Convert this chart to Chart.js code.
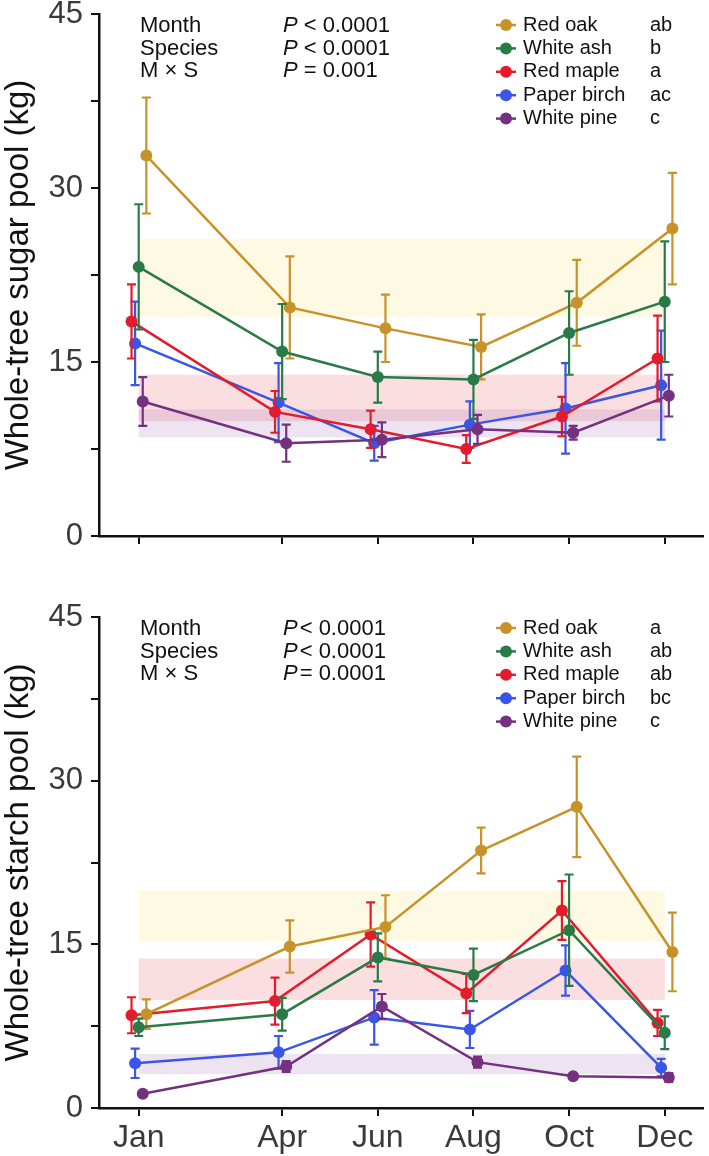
<!DOCTYPE html>
<html>
<head>
<meta charset="utf-8">
<script src="https://cdn.jsdelivr.net/npm/chart.js@4.4.1/dist/chart.umd.min.js"></script>
<style>
  body { margin: 0; background: #fff; }
  canvas { position: absolute; left: 0; }
</style>
</head>
<body>
<canvas id="sugarChart" width="709" height="570" style="top:0"></canvas>
<canvas id="starchChart" width="709" height="586" style="top:570px"></canvas>
<script>
// data (kg, mean and SE)
const months = [1, 4, 6, 8, 10, 12];
const monthNames = ["Jan", "Apr", "Jun", "Aug", "Oct", "Dec"];
const species = ["Red oak", "White ash", "Red maple", "Paper birch", "White pine"];
const yTicks = [0, 7.5, 15, 22.5, 30, 37.5, 45];

const sugarOak = [32.8, 19.7, 17.9, 16.3, 20.1, 26.5];
const sugarOakSE = [5.0, 4.4, 2.9, 2.8, 3.7, 4.8];
const sugarAsh = [23.2, 15.9, 13.7, 13.5, 17.5, 20.2];
const sugarAshSE = [5.4, 4.1, 2.2, 3.4, 3.6, 5.2];
const sugarMaple = [18.5, 10.7, 9.2, 7.5, 10.3, 15.3];
const sugarMapleSE = [3.2, 1.8, 1.6, 1.2, 1.7, 3.7];
const sugarBirch = [16.6, 11.5, 8.0, 9.6, 11.0, 13.0];
const sugarBirchSE = [3.6, 3.4, 1.5, 2.0, 3.9, 4.7];
const sugarPine = [11.6, 8.0, 8.3, 9.2, 8.9, 12.1];
const sugarPineSE = [2.1, 1.6, 1.5, 1.25, 0.6, 1.8];

const starchOak = [8.6, 14.8, 16.6, 23.6, 27.6, 14.3];
const starchOakSE = [1.35, 2.4, 2.9, 2.1, 4.6, 3.6];
const starchAsh = [7.4, 8.6, 13.8, 12.2, 16.3, 6.9];
const starchAshSE = [0.8, 1.5, 2.2, 2.4, 5.1, 1.5];
const starchMaple = [8.5, 9.8, 15.9, 10.5, 18.1, 7.8];
const starchMapleSE = [1.65, 2.15, 2.95, 1.8, 2.7, 1.2];
const starchBirch = [4.1, 5.1, 8.3, 7.2, 12.6, 3.7];
const starchBirchSE = [1.35, 1.5, 2.5, 1.7, 2.3, 0.8];
const starchPine = [1.3, 3.8, 9.3, 4.2, 2.9, 2.8];
const starchPineSE = [0.2, 0.5, 1.15, 0.5, 0.2, 0.4];

// shaded ranges [low, high] for red oak, red maple, white pine
const sugarBands = [[18.9, 25.6], [9.9, 13.9], [8.5, 10.9]];
const starchBands = [[15.3, 19.9], [9.9, 13.7], [3.1, 4.95]];

const effects = ["Month", "Species", "M \u00d7 S"];
const sugarP = ["< 0.0001", "< 0.0001", "= 0.001"];
const starchP = ["< 0.0001", "< 0.0001", "= 0.0001"];
const sugarLetters = ["ab", "b", "a", "ac", "c"];
const starchLetters = ["a", "ab", "ab", "bc", "c"];

// styling
const FONT = "'Liberation Sans', Arial, sans-serif";
const colors = ["#c8922a", "#2a7a48", "#e31b2c", "#3a56e6", "#74317f"];
const dodge = [0.16, 0, -0.15, -0.075, 0.085];
const drawOrder = [2, 1, 3, 4, 0];
const bandColors = ["rgba(246,224,110,0.2)", "rgba(232,90,100,0.2)", "rgba(140,80,170,0.16)"];

const bandsPlugin = {
  id: "bands",
  beforeDatasetsDraw(chart, args, opts) {
    const { ctx, scales: { x, y } } = chart;
    ctx.save();
    opts.bands.forEach((b, i) => {
      const x0 = x.getPixelForValue(months[0]);
      const x1 = x.getPixelForValue(months[months.length - 1]);
      const y0 = y.getPixelForValue(b[1]);
      const y1 = y.getPixelForValue(b[0]);
      ctx.fillStyle = bandColors[i];
      ctx.fillRect(x0, y0, x1 - x0, y1 - y0);
    });
    ctx.restore();
  }
};

const errorBarPlugin = {
  id: "errbars",
  beforeDatasetDraw(chart, args) {
    const ds = chart.data.datasets[args.index];
    const { ctx, scales: { x, y } } = chart;
    ctx.save();
    ctx.strokeStyle = ds.borderColor;
    ctx.lineWidth = 2.2;
    ds.data.forEach((p, i) => {
      const px = x.getPixelForValue(p.x);
      const top = y.getPixelForValue(p.y + ds.se[i]);
      const bot = y.getPixelForValue(p.y - ds.se[i]);
      ctx.beginPath();
      ctx.moveTo(px, top); ctx.lineTo(px, bot);
      ctx.moveTo(px - 4.5, top); ctx.lineTo(px + 4.5, top);
      ctx.moveTo(px - 4.5, bot); ctx.lineTo(px + 4.5, bot);
      ctx.stroke();
    });
    ctx.restore();
  }
};

const textPlugin = {
  id: "statsLegend",
  afterDraw(chart, args, opts) {
    const { ctx, chartArea } = chart;
    const top = chartArea.top;
    ctx.save();
    ctx.textBaseline = "middle";
    ctx.fillStyle = "#111";
    // statistics block
    effects.forEach((e, i) => {
      const yy = top + 12 + i * 22.5;
      ctx.font = "22px " + FONT;
      ctx.fillText(e, 140, yy);
      ctx.font = "italic 22px " + FONT;
      ctx.fillText("P", 283, yy);
      const w = ctx.measureText("P").width;
      ctx.font = "22px " + FONT;
      ctx.fillText(opts.pvals[i], 283 + w + opts.gap, yy);
    });
    // legend
    species.forEach((s, i) => {
      const yy = top + 11 + i * 23.4;
      ctx.strokeStyle = colors[i];
      ctx.lineWidth = 2.5;
      ctx.beginPath();
      ctx.moveTo(496, yy); ctx.lineTo(516, yy);
      ctx.stroke();
      ctx.fillStyle = colors[i];
      ctx.beginPath();
      ctx.arc(506, yy, 6, 0, Math.PI * 2);
      ctx.fill();
      ctx.fillStyle = "#111";
      ctx.font = "20px " + FONT;
      ctx.fillText(s, 523, yy);
      ctx.fillText(opts.letters[i], 650, yy);
    });
    ctx.restore();
  }
};

function makeChart(id, values, errors, bands, pvals, gap, letters, title, padTop, xHeight, showX) {
  const datasets = species.map((s, k) => ({
    label: s,
    data: months.map((m, i) => ({ x: m + dodge[k], y: values[k][i] })),
    se: errors[k],
    borderColor: colors[k],
    backgroundColor: colors[k],
    borderWidth: 2.5,
    pointRadius: 6,
    pointHoverRadius: 6,
    pointBorderWidth: 0,
    order: drawOrder[k],
    tension: 0
  }));
  return new Chart(document.getElementById(id).getContext("2d"), {
    type: "line",
    data: { datasets },
    options: {
      responsive: false,
      animation: false,
      events: [],
      layout: { padding: { top: padTop, right: 3, left: 0, bottom: 0 } },
      plugins: {
        legend: { display: false },
        tooltip: { enabled: false },
        bands: { bands },
        statsLegend: { pvals, gap, letters }
      },
      scales: {
        x: {
          type: "linear",
          min: 0.17,
          max: 12.8,
          afterBuildTicks: (s) => { s.ticks = months.map(v => ({ value: v })); },
          afterFit: (s) => { s.height = xHeight; s.paddingLeft = 0; s.paddingRight = 0; },
          border: { color: "#111", width: 2.5 },
          grid: { drawOnChartArea: false, color: "#111", lineWidth: 2, tickLength: 8 },
          ticks: {
            display: showX,
            autoSkip: false,
            maxRotation: 0,
            padding: 3,
            color: "#3a3a3a",
            font: { family: FONT, size: 32 },
            callback: (v) => monthNames[months.indexOf(v)]
          }
        },
        y: {
          min: 0,
          max: 45,
          afterBuildTicks: (s) => { s.ticks = yTicks.map(v => ({ value: v })); },
          afterFit: (s) => { s.width = 99; s.paddingTop = 0; s.paddingBottom = 0; },
          border: { color: "#111", width: 2.5 },
          grid: { drawOnChartArea: false, color: "#111", lineWidth: 2, tickLength: 8 },
          ticks: {
            autoSkip: false,
            padding: 8,
            color: "#3a3a3a",
            font: { family: FONT, size: 31 },
            callback: (v) => (v % 15 === 0 ? v : "")
          },
          title: {
            display: true,
            text: title,
            color: "#111",
            padding: { top: 0, bottom: 0 },
            font: { family: FONT, size: 33, lineHeight: 1.15 }
          }
        }
      }
    },
    plugins: [bandsPlugin, errorBarPlugin, textPlugin]
  });
}

window.onload = function () {
  makeChart("sugarChart",
    [sugarOak, sugarAsh, sugarMaple, sugarBirch, sugarPine],
    [sugarOakSE, sugarAshSE, sugarMapleSE, sugarBirchSE, sugarPineSE],
    sugarBands, sugarP, 6, sugarLetters,
    "Whole-tree sugar pool (kg)", 14, 34, false);
  makeChart("starchChart",
    [starchOak, starchAsh, starchMaple, starchBirch, starchPine],
    [starchOakSE, starchAshSE, starchMapleSE, starchBirchSE, starchPineSE],
    starchBands, starchP, 2, starchLetters,
    "Whole-tree starch pool (kg)", 47, 48, true);
};
</script>
</body>
</html>
